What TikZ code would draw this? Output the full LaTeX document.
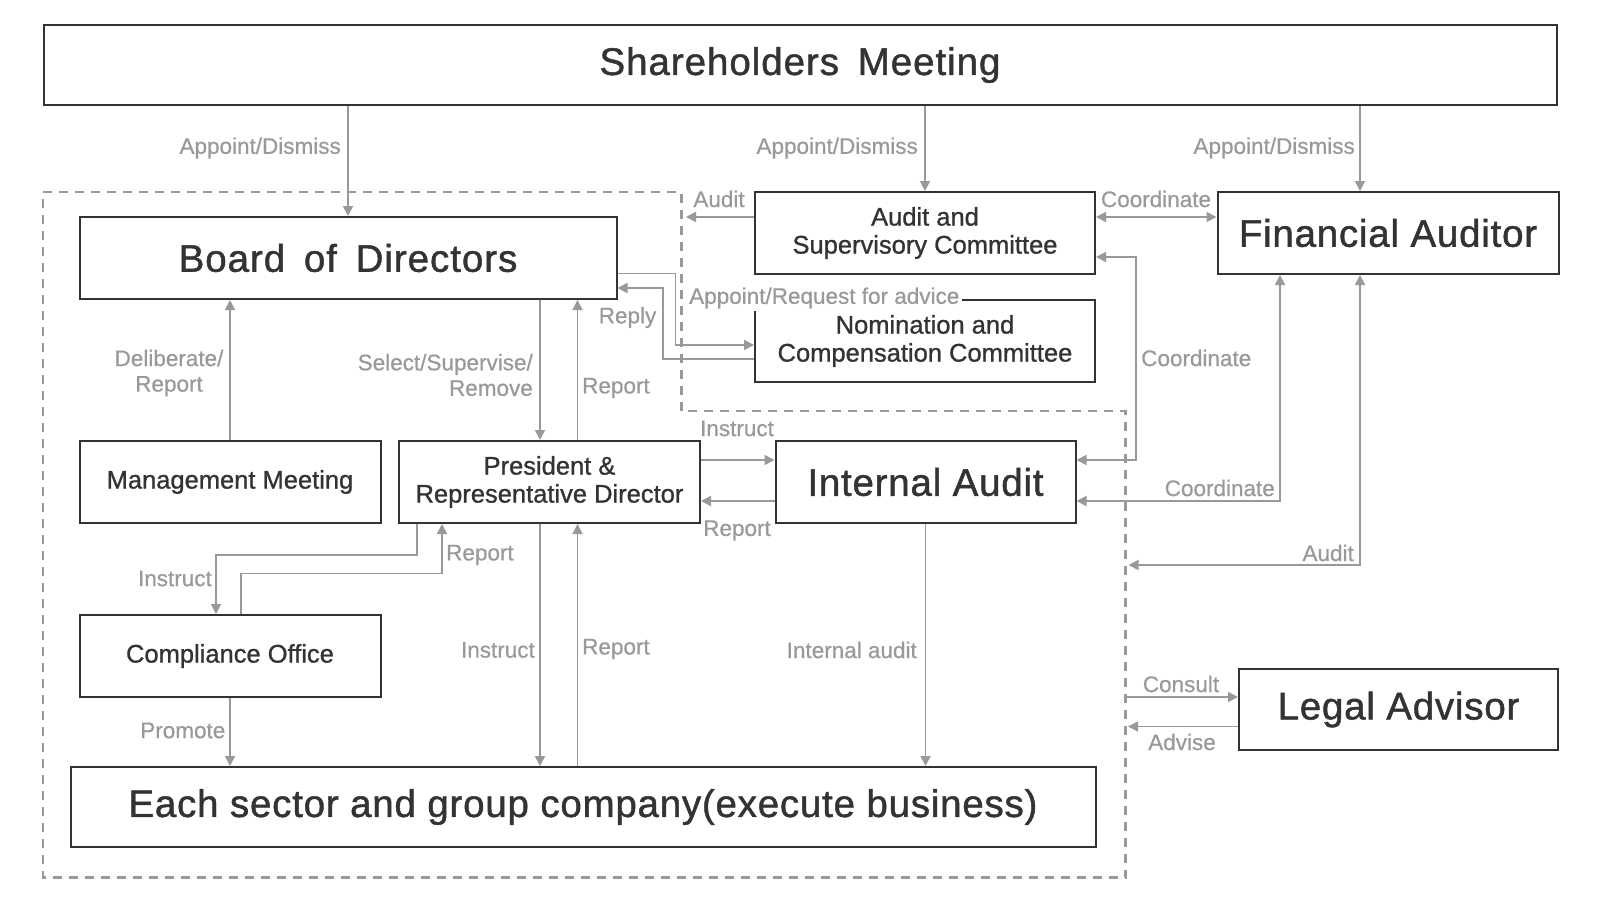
\documentclass[tikz,border=0pt]{standalone}
\usepackage{fontspec}
\setmainfont{Liberation Sans}
\newfontfamily\boxfont{Liberation Sans}[FakeBold=1]
\newfontfamily\bigfont{Liberation Sans}[FakeBold=1.2,LetterSpace=2.5,WordSpace=1.6]
\newfontfamily\headfont{Liberation Sans}[FakeBold=1.2,LetterSpace=2]
\newfontfamily\lblfont{Liberation Sans}[FakeBold=0.6]
\usepackage{tikz}
\usetikzlibrary{arrows.meta}

\definecolor{boxline}{HTML}{333333}
\definecolor{linkgray}{HTML}{999999}

\begin{document}
\begin{tikzpicture}[x=1pt,y=-1pt,
        >={Triangle[length=10pt,width=10pt]},
        box/.style={draw=boxline,line width=2pt,text=boxline,inner sep=0pt,align=center,
            minimum height=82pt,font=\boxfont\fontsize{25.5}{28}\selectfont},
        bigbox/.style={box,font=\bigfont\fontsize{38.5}{44}\selectfont},
        headbox/.style={box,font=\headfont\fontsize{38.5}{44}\selectfont},
        link/.style={draw=linkgray,line width=1.8pt},
        lbl/.style={text=linkgray,inner sep=0pt,font=\lblfont\fontsize{22.5}{25.5}\selectfont},
        grp/.style={draw=linkgray,line width=2.5pt,dash pattern=on 9pt off 7pt}]
        \useasboundingbox (0,0) rectangle (1600,900);
        % Group outline
        \draw[grp] (43,192) -- (681.5,192) -- (681.5,411) -- (1125.5,411) -- (1125.5,877.5) -- (43,877.5) -- cycle;
        % Boxes
        \node[bigbox,minimum width=1513pt,minimum height=80pt] (share) at (800,65) {Shareholders Meeting};
        \node[bigbox,minimum width=537pt] (bod) at (348,258) {Board of Directors};
        \node[box,minimum width=340pt] (asc) at (925,233) {Audit and\\Supervisory Committee};
        \node[box,minimum width=340pt] (ncc) at (925,341) {Nomination and\\Compensation Committee};
        \node[headbox,minimum width=341pt] (fa) at (1388,233) {Financial Auditor};
        \node[box,minimum width=301pt] (mm) at (230,482) {Management Meeting};
        \node[box,minimum width=301pt] (pres) at (549.5,482) {President \&\\Representative Director};
        \node[headbox,minimum width=300pt] (ia) at (925.5,482) {Internal Audit};
        \node[box,minimum width=301pt] (co) at (230,656) {Compliance Office};
        \node[headbox,minimum width=1025pt,minimum height=80pt] (sect) at (583,807) {Each sector and group company(execute business)};
        \node[headbox,minimum width=319pt,minimum height=81pt] (la) at (1398.5,709.5) {Legal Advisor};
        % Appoint/Dismiss
        \draw[link,->] (bod.north |- share.south) -- (bod.north);
        \draw[link,->] (asc.north |- share.south) -- (asc.north);
        \draw[link,->] (1360,0 |- share.south) -- (1360,0 |- fa.north);
        \node[lbl,anchor=east] (lApp1) at (341,148) {Appoint/Dismiss};
        \node[lbl,anchor=east] (lApp2) at (918,148) {Appoint/Dismiss};
        \node[lbl,anchor=east] (lApp3) at (1355,148) {Appoint/Dismiss};
        % Committees
        \coordinate (ascAudit) at (686,217);
        \draw[link,->] (asc.west |- ascAudit) -- (ascAudit);
        \node[lbl] (lAscAudit) at (719,199) {Audit};
        \draw[link,<->] (asc.east |- 0,217) -- (fa.west |- 0,217);
        \node[lbl] (lCoord1) at (1156,199) {Coordinate};
        \draw[link,<->] (asc.east |- 0,257) -- (1136,257) -- (1136,460) -- (ia.east |- 0,460);
        \node[lbl,anchor=west] (lCoord2) at (1141,358) {Coordinate};
        \draw[link,->] (bod.east |- 0,273.5) -- (675.5,273.5) -- (675.5,345) -- (ncc.west |- 0,345);
        \node[lbl,fill=white,inner sep=3pt,anchor=west] (lRequest) at (686,298) {Appoint/Request for advice};
        \draw[link,->] (ncc.west |- 0,359) -- (663,359) -- (663,288) -- (bod.east |- 0,288);
        \node[lbl] (lReply) at (627.5,317.5) {Reply};
        % Financial auditor and legal advisor
        \draw[link,<->] (ia.east |- 0,501) -| (1280,0 |- fa.south);
        \node[lbl,anchor=east] (lCoord3) at (1275,488) {Coordinate};
        \coordinate (faAudit) at (1128.5,565);
        \draw[link,<->] (faAudit) -| (1360,0 |- fa.south);
        \node[lbl,anchor=east] (lFaAudit) at (1354,553) {Audit};
        \coordinate (consult) at (1125.5,697);
        \draw[link,->] (consult) -- (la.west |- consult);
        \node[lbl] (lConsult) at (1181,684) {Consult};
        \coordinate (advise) at (1128,726.5);
        \draw[link,->] (la.west |- advise) -- (advise);
        \node[lbl] (lAdvise) at (1182,742) {Advise};
        % Board and president
        \draw[link,->] (mm.north) -- (mm.north |- bod.south);
        \node[lbl,align=center] (lDelib) at (169,373) {Deliberate/\\Report};
        \draw[link,->] (540,0 |- bod.south) -- (540,0 |- pres.north);
        \draw[link,->] (577.5,0 |- pres.north) -- (577.5,0 |- bod.south);
        \node[lbl,anchor=east,align=right] (lSelect) at (533,375) {Select/Supervise/\\Remove};
        \node[lbl,anchor=west] (lRep1) at (582,388) {Report};
        \draw[link,->] (pres.east |- 0,460) -- (ia.west |- 0,460);
        \node[lbl] (lInst1) at (737,428.5) {Instruct};
        \draw[link,->] (ia.west |- 0,501) -- (pres.east |- 0,501);
        \node[lbl] (lRep2) at (737,530.5) {Report};
        % Compliance
        \draw[link,->] (417,0 |- pres.south) |- (216,555) -- (216,0 |- co.north);
        \node[lbl,anchor=east] (lInst2) at (212,578.5) {Instruct};
        \draw[link,->] (241,0 |- co.north) |- (442,573.5) -- (442,0 |- pres.south);
        \node[lbl,anchor=west] (lRep3) at (446,555) {Report};
        \draw[link,->] (co.south) -- (co.south |- sect.north);
        \node[lbl,anchor=east] (lPromote) at (225.5,730.5) {Promote};
        % Business execution
        \draw[link,->] (540,0 |- pres.south) -- (540,0 |- sect.north);
        \draw[link,->] (577.5,0 |- sect.north) -- (577.5,0 |- pres.south);
        \node[lbl,anchor=east] (lInst3) at (535,650) {Instruct};
        \node[lbl,anchor=west] (lRep4) at (582,649) {Report};
        \draw[link,->] (ia.south) -- (ia.south |- sect.north);
        \node[lbl,anchor=east] (lIntAudit) at (917,650) {Internal audit};
\end{tikzpicture}
\end{document}
